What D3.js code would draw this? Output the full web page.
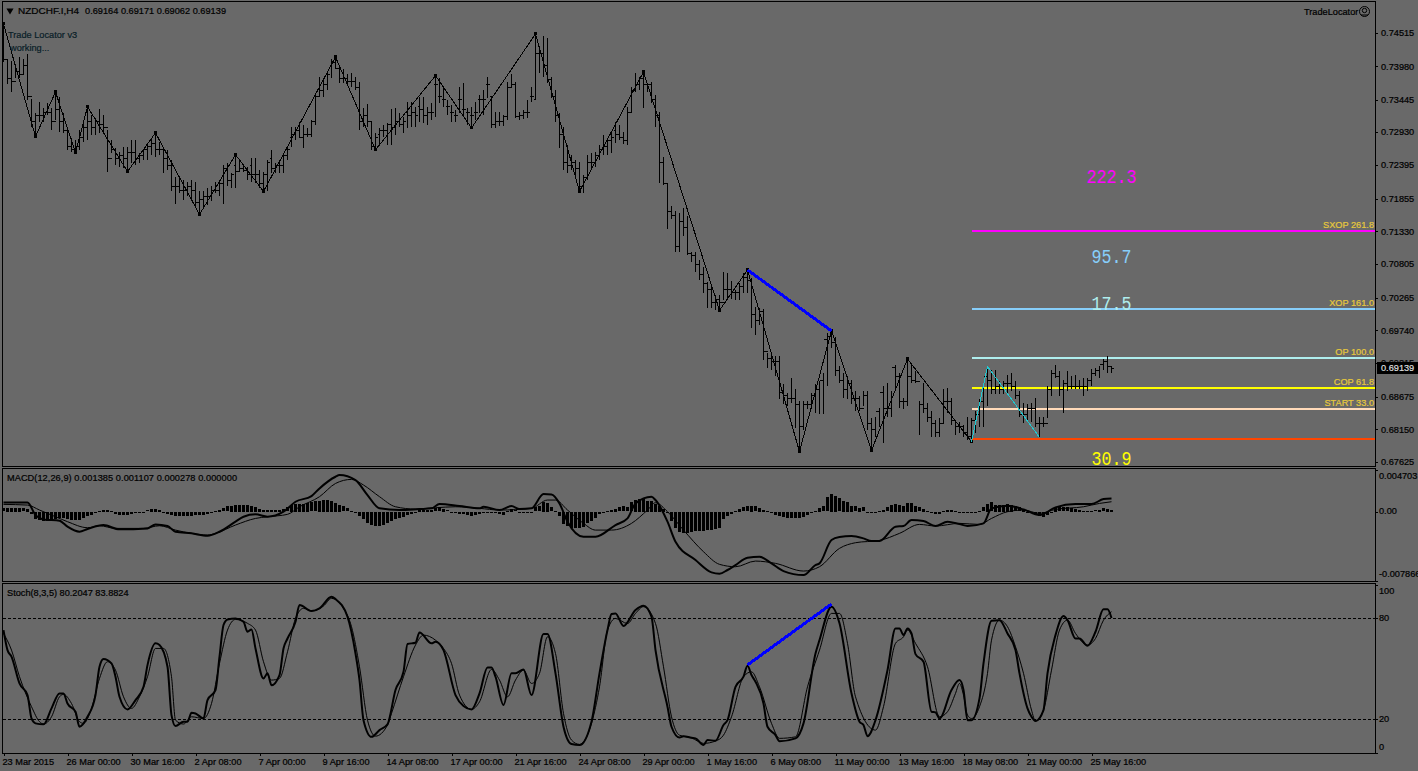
<!DOCTYPE html>
<html><head><meta charset="utf-8">
<script src="https://cdn.jsdelivr.net/npm/d3@7/dist/d3.min.js"></script>
<style>
html,body{margin:0;padding:0;background:#696969;overflow:hidden}
svg{display:block}
text{font-family:"Liberation Sans",Arial,sans-serif;font-size:9.2px;fill:#000}
</style></head><body>
<svg id="c" width="1418" height="771"></svg>
<script>
// ---- price bars, in pips (1 pip = 0.0001) ----
const highs=[7466,7409,7406,7397,7413,7409,7417,7346,7323,7341,7331,7339,7331,7357,7349,7323,7301,7283,7280,7296,7312,7333,7320,7315,7330,7320,7296,7280,7267,7261,7269,7269,7280,7280,7259,7264,7275,7283,7291,7277,7269,7264,7248,7221,7221,7216,7213,7216,7213,7197,7197,7203,7205,7213,7213,7240,7243,7227,7256,7248,7240,7237,7251,7251,7232,7229,7248,7264,7243,7248,7256,7269,7301,7301,7309,7304,7299,7312,7355,7381,7380,7389,7409,7413,7397,7393,7385,7388,7381,7373,7331,7338,7309,7291,7299,7304,7307,7330,7331,7323,7317,7341,7341,7333,7349,7349,7333,7339,7383,7380,7364,7344,7336,7328,7364,7371,7331,7333,7341,7352,7360,7381,7349,7325,7325,7320,7373,7385,7373,7325,7328,7344,7365,7450,7428,7446,7444,7381,7360,7323,7301,7272,7256,7248,7245,7224,7256,7259,7261,7272,7288,7283,7291,7309,7304,7293,7333,7365,7388,7381,7389,7372,7373,7352,7325,7253,7211,7173,7165,7163,7171,7157,7100,7100,7087,7076,7052,7044,7031,7031,7068,7066,7053,7039,7050,7066,7071,7058,7012,7010,7009,6938,6935,6932,6932,6887,6874,6898,6879,6860,6860,6860,6874,6887,6892,6906,6970,6975,6964,6916,6906,6900,6895,6876,6868,6876,6876,6833,6834,6850,6884,6890,6876,6919,6906,6866,6927,6922,6908,6860,6890,6858,6844,6830,6833,6879,6882,6866,6827,6827,6822,6835,6833,6844,6863,6884,6916,6911,6911,6892,6892,6903,6906,6892,6876,6858,6855,6858,6866,6834,6834,6884,6911,6919,6908,6895,6909,6900,6903,6895,6898,6898,6912,6914,6917,6928,6932,6917];
const lows=[7405,7369,7356,7380,7380,7385,7344,7301,7285,7309,7309,7320,7296,7312,7293,7291,7264,7261,7258,7264,7277,7280,7288,7288,7291,7293,7229,7259,7240,7237,7235,7229,7243,7240,7243,7248,7248,7256,7253,7256,7227,7232,7197,7177,7195,7184,7189,7184,7173,7160,7171,7176,7181,7195,7189,7177,7205,7203,7203,7229,7229,7216,7213,7211,7203,7197,7197,7227,7227,7227,7227,7248,7269,7280,7283,7267,7285,7285,7304,7349,7349,7360,7380,7393,7372,7372,7369,7364,7360,7296,7301,7301,7264,7264,7272,7285,7272,7272,7288,7301,7291,7299,7301,7301,7309,7307,7304,7312,7317,7339,7333,7320,7309,7309,7323,7320,7304,7299,7312,7323,7320,7347,7299,7299,7302,7302,7312,7364,7315,7312,7314,7315,7341,7344,7388,7381,7372,7347,7309,7267,7232,7227,7232,7221,7197,7195,7216,7232,7237,7248,7256,7256,7259,7275,7280,7274,7272,7323,7356,7360,7331,7357,7339,7301,7211,7208,7137,7152,7100,7100,7125,7095,7084,7068,7055,7034,7010,7010,7007,7007,7023,7023,7025,7023,7023,7034,7034,6978,6967,6983,6927,6914,6911,6900,6863,6855,6852,6858,6817,6779,6814,6847,6847,6842,6839,6839,6884,6946,6900,6890,6865,6863,6855,6844,6844,6852,6814,6782,6802,6819,6793,6834,6834,6882,6850,6847,6852,6890,6890,6806,6842,6827,6802,6802,6802,6825,6842,6822,6806,6809,6802,6798,6795,6809,6819,6819,6852,6871,6871,6871,6871,6874,6876,6863,6834,6825,6830,6827,6819,6802,6819,6833,6868,6898,6868,6841,6876,6879,6879,6879,6868,6876,6884,6900,6898,6911,6906,6906];
const opens=[7430,7410,7380,7375,7390,7385,7400,7350,7310,7320,7320,7325,7325,7310,7330,7310,7295,7270,7265,7270,7285,7300,7310,7300,7310,7305,7300,7250,7265,7250,7255,7250,7260,7260,7250,7255,7265,7270,7275,7265,7265,7250,7240,7205,7205,7200,7200,7205,7200,7180,7185,7190,7190,7200,7200,7210,7235,7215,7240,7230,7235,7232,7240,7225,7225,7210,7225,7250,7235,7240,7240,7255,7285,7290,7295,7285,7290,7290,7310,7350,7360,7370,7400,7405,7395,7380,7380,7375,7375,7365,7310,7320,7310,7270,7290,7295,7295,7305,7300,7310,7305,7325,7320,7325,7335,7330,7320,7325,7370,7350,7345,7335,7325,7320,7345,7330,7325,7320,7325,7345,7345,7370,7350,7305,7310,7310,7318,7365,7370,7318,7320,7325,7350,7345,7420,7420,7400,7378,7350,7320,7290,7245,7240,7245,7235,7205,7220,7245,7245,7255,7265,7270,7280,7295,7290,7285,7280,7325,7360,7370,7380,7370,7370,7345,7320,7245,7210,7165,7160,7110,7150,7140,7098,7095,7080,7065,7050,7040,7020,7025,7020,7040,7040,7035,7035,7045,7060,7055,7000,6990,7005,6940,6930,6925,6925,6875,6870,6865,6865,6855,6820,6855,6855,6870,6880,6895,6960,6965,6955,6910,6895,6880,6890,6865,6865,6850,6870,6825,6815,6845,6875,6850,6850,6915,6900,6860,6860,6900,6895,6893,6855,6850,6835,6825,6810,6825,6860,6860,6830,6820,6820,6810,6805,6830,6840,6860,6900,6895,6880,6885,6880,6890,6890,6885,6870,6840,6840,6850,6850,6825,6825,6825,6880,6905,6900,6880,6890,6885,6885,6885,6885,6885,6895,6905,6910,6920,6925,6916];
const closes=[7410,7380,7375,7390,7385,7400,7350,7310,7320,7320,7325,7325,7310,7330,7310,7295,7270,7265,7270,7285,7300,7310,7300,7310,7305,7300,7250,7265,7250,7255,7250,7260,7260,7250,7255,7265,7270,7275,7265,7265,7250,7240,7205,7205,7200,7200,7205,7200,7180,7185,7190,7190,7200,7200,7210,7235,7215,7225,7230,7235,7232,7225,7225,7225,7210,7225,7245,7235,7240,7240,7255,7265,7290,7295,7285,7290,7290,7310,7350,7360,7370,7385,7405,7395,7380,7380,7375,7375,7365,7310,7320,7310,7270,7285,7295,7295,7305,7300,7310,7305,7310,7320,7325,7320,7330,7320,7325,7325,7370,7350,7345,7335,7325,7320,7345,7330,7325,7320,7325,7345,7345,7370,7305,7310,7310,7318,7365,7370,7318,7320,7325,7325,7350,7420,7420,7400,7378,7350,7320,7290,7245,7240,7245,7235,7205,7220,7245,7245,7255,7265,7270,7280,7285,7290,7285,7280,7325,7360,7370,7380,7370,7370,7345,7320,7245,7210,7165,7160,7110,7150,7140,7098,7095,7080,7065,7050,7040,7020,7025,7020,7040,7040,7035,7035,7045,7060,7055,7000,6990,7005,6940,6930,6925,6925,6875,6870,6865,6865,6855,6820,6855,6855,6870,6880,6895,6960,6965,6955,6910,6895,6880,6890,6865,6865,6850,6870,6825,6815,6845,6875,6850,6850,6915,6900,6860,6860,6900,6895,6893,6855,6850,6835,6825,6810,6825,6860,6860,6830,6820,6820,6810,6805,6830,6840,6860,6900,6895,6880,6885,6880,6890,6890,6885,6870,6840,6840,6850,6850,6825,6825,6825,6880,6905,6900,6880,6890,6885,6885,6885,6885,6885,6895,6905,6910,6920,6925,6916,6914];

// ---- zigzag and divergence overlays ----
const zigBars=[0,8,13,18,21,31,38,49,58,65,83,93,108,117,133,144,160,179,186,199,207,217,226,242];
const zigPips=[7466,7285,7357,7259,7333,7229,7291,7160,7256,7197,7413,7264,7383,7299,7450,7197,7389,7006,7071,6779,6974,6781,6928,6795];
const cyanBars=[242,246,259];
const cyanPips=[6795,6916,6802];
const divBars=[186,207];
const divPips=[7071,6973];
const divStoch=[52.3,88.5];

// ---- levels ----
const levelPips=[7134,7009,6930,6882,6847,6800];
const levelColors=["#ff00ff","#87cefa","#afeeee","#ffff00","#ffdab9","#ff4500"];
const levelNames=["SXOP 261.8","XOP 161.0","OP 100.0","COP 61.8","START 33.0",""];
const bigPips=[7221,7094,7017,6769];
const bigLabels=["222.3","95.7","17.5","30.9"];
const bigColors=["#ff00ff","#87cefa","#afeeee","#ffff00"];

// ---- MACD, units of 0.0001 ----
const macdHist=[3.8,4.1,4.1,4.1,4.1,3.8,3,-2.6,-7.5,-9.4,-10.2,-10.2,-9.4,-7.5,-6.8,-7.2,-8.3,-9,-9.4,-9,-6.4,-4.5,-3,-1.5,.8,1.9,1.9,.8,-1.9,-3,-3,-3,-1.9,-.8,-.4,0,1.5,3,3,1.9,0,-2.6,-3.8,-4.5,-4.5,-4.5,-4.5,-4.5,-3.8,-3,-3,-1.9,-.8,1.1,1.9,3.8,5.7,6.8,7.5,7.5,7.5,7.5,6.8,5.3,3,2.3,2.3,2.3,2.3,2.3,3,4.9,7.5,8.7,8.7,8.7,9.8,10.6,11.7,12.4,13.2,13.2,12.4,9.8,7.5,6,3.8,1.1,-.8,-4.5,-7.5,-12.8,-15.1,-15.8,-15.8,-15.1,-12.1,-10.2,-8.3,-6.4,-5.3,-3.8,-1.9,0,1.9,2.3,1.9,2.3,3.8,4.9,3,1.5,0,-1.1,-1.9,-1.9,-3,-4.5,-3,-2.3,0,-.8,-1.5,-1.5,-2.3,-3,.8,3,1.5,-1.5,-1.5,-1.5,-.8,4.9,6,11.3,9.8,4.9,1.1,-4.5,-13.9,-15.8,-18.5,-18.5,-18.5,-16.6,-12.8,-10.2,-6.4,-2.6,-.8,1.1,1.9,3,4.9,6,4.9,10.6,13.6,14.3,14.3,12.4,12.4,8.7,6.8,3,-1.5,-10.2,-17.7,-22.6,-23.4,-23.4,-22.6,-21.9,-21.9,-21.1,-20.4,-20.4,-18.9,-17.7,-8.3,-4.5,-1.9,.8,3,4.9,6,6.8,6,4.1,2.3,1.1,-1.5,-3.4,-4.5,-5.3,-6.4,-7.2,-6.4,-6.4,-5.7,-3.8,-.8,1.1,4.1,5.7,16.2,20,18.1,15.1,12.4,11.3,6.8,5.7,4.1,4.9,0,0,0,.8,2.3,4.9,7.5,8.7,7.5,6.8,9.8,9.8,6.8,4.9,3,.8,-.8,-1.9,-1.9,1.1,2.3,1.9,.4,-.8,-1.1,-1.1,-.8,0,.4,4.9,8.7,10.6,7.5,7.5,7.5,8.7,7.5,6,4.9,1.9,0,-1.5,-3,-4.5,-5.3,-3.8,0,4.1,4.9,4.9,4.9,4.1,3,1.9,1.1,1.1,1.1,1.5,2.3,3.8,3,1.9];
const macdMainBars=[0,6,8,10,14,16,19,21,25,29,36,38,41,43,47,51,54,58,60,63,66,70,73,77,79,83,84,88,91,94,99,104,107,109,114,119,120,124,127,129,132,135,137,139,141,145,148,153,156,158,162,163,166,168,173,177,179,181,183,186,189,192,195,200,203,204,207,209,212,215,217,219,223,225,227,230,233,236,239,241,245,247,251,255,259,263,268,272,275,277];
const macdMain=[10.3,10.3,-4,-8.9,-10.4,-17.2,-22.9,-19.8,-15.3,-20.2,-19.1,-14.6,-16.4,-22.9,-24.7,-27.4,-22.9,-11.5,-5.9,-3.2,-5.9,-.2,11.1,17.5,26.2,39.4,41.3,35.6,18.6,3.6,1.7,2.8,3.6,8.5,6.2,3.6,5.4,1.7,6.2,2.8,3.6,19.8,19.4,9.2,-11.5,-28.5,-28.5,-15.3,-7.8,9.2,16.7,13,-11.5,-34.2,-54.9,-68.9,-70.4,-66.2,-60.6,-52.3,-51.2,-58.7,-67.4,-71.9,-60.6,-58.7,-32.3,-28.9,-27.8,-30.4,-33.4,-33.4,-17.2,-16.4,-9.7,-10.8,-16.4,-11.5,-14.2,-16.4,-13.4,3.6,6.6,2.4,-4,4.7,8.5,8.5,14.1,14.9];
const macdSigBars=[0,6,9,13,16,21,24,28,35,39,43,47,51,53,58,63,66,71,74,79,83,87,90,94,98,103,108,113,119,124,132,136,138,141,145,148,152,157,161,163,166,170,175,179,183,188,193,200,204,209,213,219,224,229,233,239,244,247,251,255,259,263,270,274,277];
const macdSig=[8.1,7.3,1.7,-5.9,-11.5,-18.3,-16.1,-19.1,-19.1,-16.1,-21,-24.7,-26.6,-24.7,-15.3,-7.8,-5.9,-3.2,5.4,16.8,31.8,36.4,30,16.8,5.4,2.8,4.3,5.4,3.6,1.7,3.6,13,13,1.7,-13.4,-21,-21,-13.4,1.7,10,-.2,-21,-45.5,-59.8,-62.5,-56.1,-58.7,-67.4,-62.5,-41.7,-35.3,-32.7,-24.7,-14.6,-16.4,-13.4,-14.6,-7.8,-.2,1.7,-2.1,2.4,5.4,9.2,11.1];

// ---- Stochastic ----
const stochMainBars=[0,1,2,4,6,7,8,10,12,14,15,16,18,19,21,23,24,25,27,28,29,31,33,35,36,38,39,41,42,43,45,46,47,48,50,51,53,54,55,56,58,60,61,62,63,65,66,67,69,70,71,73,74,77,79,82,83,86,88,89,90,92,94,96,98,100,101,103,104,107,108,110,113,115,117,119,121,122,123,125,127,128,130,132,135,136,138,140,142,144,147,149,151,152,153,155,158,160,162,163,166,167,169,170,172,173,175,176,178,180,181,183,185,186,187,188,190,191,193,194,198,200,203,204,207,209,212,214,215,216,218,221,223,224,225,226,227,228,230,232,233,234,237,239,240,241,242,244,245,247,249,251,253,254,256,257,258,260,261,263,265,266,268,269,271,273,275,276,277];
const stochMain=[73,61.1,57.2,41.3,34.4,20.5,17.6,17,26.5,35.4,35.4,29.4,24.5,15.6,21.5,34.4,51.2,55.8,53.2,45.3,33.4,25.9,31.4,39.3,52.2,65.1,64.1,51.2,22.5,16,18.6,18.6,23.9,23.5,20.5,31.4,37.4,57.2,76,79.3,79.9,77.9,72,73.4,62.1,44.3,47.3,40.3,46.3,62.1,68,77.9,87.9,84.3,85.9,92.8,91.4,80.9,59.1,43.3,19.5,9.6,13.6,17,37.4,48.2,64.7,65.5,71.6,65.1,66.1,61.1,34.4,27.9,25.9,35.4,50.8,50.8,45.3,28.5,47.3,47.3,49.6,34.4,70.6,70.6,47.3,15.6,5.3,4.7,18.6,47.3,73,82.5,82.9,75.4,84.9,87.5,80.9,61.1,27.5,15.6,9.2,10,9,8.7,4.7,7.7,7.3,16.6,19.5,39.3,45.3,51.8,46.3,42.3,29.4,15.6,10.6,7,8.7,17.6,59.1,67,86.9,77,35.4,18.6,16.6,10,19.5,49.2,74,74,70,74,71,58.7,54.2,24.5,24.1,20.5,37.4,43.3,37.4,19.5,19.5,32.4,53.2,78.5,78.9,71,61.1,47.3,26.5,21.5,19,25.5,47.3,70,81.3,78.9,68,68,63.7,72,85.3,85.3,80.2];
const stochSigBars=[0,2,4,7,9,10,12,14,15,17,19,20,22,24,26,28,30,32,34,36,38,40,42,43,45,47,50,52,54,56,58,61,63,65,67,69,71,73,75,77,80,82,85,87,89,91,93,96,97,100,103,105,108,110,112,114,117,119,122,124,126,128,130,132,134,136,138,140,142,144,147,149,151,153,156,158,160,163,165,167,169,172,175,178,180,182,185,187,189,192,194,198,201,204,207,209,211,213,218,220,223,225,226,228,231,234,236,238,239,240,241,242,244,246,247,249,251,253,255,257,258,260,262,264,266,268,271,273,275,277];
const stochSig=[71,61.1,45.3,27.5,18.6,17.2,21.5,33.4,34.8,29.4,18.6,17.6,26.5,44.3,54.2,49.2,33.4,26.5,33.4,45.3,62.1,62.1,45.3,19.5,17.2,21.5,20.5,29.4,53.2,73,79.3,77,73,54.2,43.3,44.3,60.1,79.9,85.9,84.3,87.3,91.8,85.9,75,51.2,19.5,10,16.6,23.5,45.3,64.1,70,67,62.1,53.2,34.4,25.9,30.4,49.6,43.3,33.4,43.3,49.2,41.3,47.3,69,59.1,23.5,7.7,5.1,17.6,39.3,73,79.9,76.9,82.9,86.9,76.9,51.2,21.5,10.6,9,5.7,7.1,10.6,21.5,45.3,48.2,39.3,17.6,8.7,9.6,39.3,61.1,82.9,82.9,65.1,33.4,13.6,27.5,65.1,69,73,65.1,51.2,21.5,24.5,35.4,41.3,34.4,22.5,20.5,27.5,47.3,67,78.9,75,63.1,47.3,25.5,19,25.5,49.2,73,78.9,71,64.1,68,78.9,83.9];

// ---- axes ----
const priceTicks=[.74515,.7398,.73445,.7293,.72395,.71855,.7133,.70805,.70265,.6974,.69215,.68675,.6815,.67625];
const macdTicks=[.004703,0,-.007866];
const stochTicks=[100,80,20,0];
const stochGuides=[80,20];
const dateBars=[0,16,32,48,64,80,96,112,128,144,160,176,192,208,224,240,256,272];
const dateLabels=["23 Mar 2015","26 Mar 00:00","30 Mar 16:00","2 Apr 08:00","7 Apr 00:00","9 Apr 16:00","14 Apr 08:00","17 Apr 00:00","21 Apr 16:00","24 Apr 08:00","29 Apr 00:00","1 May 16:00","6 May 08:00","11 May 00:00","13 May 16:00","18 May 08:00","21 May 00:00","25 May 16:00"];
const lastPrice=.69139;

// ---- layout ----
const right=1375, left=2;
const svg=d3.select("#c");
const x=d3.scaleLinear().domain([0,277]).range([3.5,1111.5]);
const y=d3.scaleLinear().domain([.67625,.74515]).range([462,33]);
const yM=d3.scaleLinear().domain([-78.66,47.03]).range([581,470]);
const yS=d3.scaleLinear().domain([0,100]).range([753,584.6]);
const P=p=>y(p/1e4);

const crisp=s=>s.attr("shape-rendering","crispEdges");

// frames
[[1.5,466.5],[468.5,581.5],[583.5,753.5]].forEach(([a,b])=>{
  crisp(svg.append("rect").attr("x",left+.5).attr("y",a).attr("width",right-left).attr("height",b-a)
    .attr("fill","none").attr("stroke","#000"));
});

// levels
const gL=svg.append("g");
levelPips.forEach((p,i)=>{
  crisp(gL.append("line").attr("x1",x(242)).attr("x2",right).attr("y1",P(p)).attr("y2",P(p))
    .attr("stroke",levelColors[i]).attr("stroke-width",2));
  if(levelNames[i]) gL.append("text").attr("x",right-1).attr("y",P(p)-3).attr("text-anchor","end")
    .style("fill","#e6c83c").text(levelNames[i]);
});
bigPips.forEach((p,i)=>{
  svg.append("text").attr("x",x(277)).attr("y",P(p)).attr("dy","0.33em").attr("text-anchor","middle")
    .attr("textLength",bigLabels[i].length*10).attr("lengthAdjust","spacingAndGlyphs")
    .attr("class","big")
    .style("font-family","'Liberation Mono',monospace").style("font-size","21px")
    .style("fill",bigColors[i]).text(bigLabels[i]);
});

// OHLC bars
const bars=crisp(svg.append("g").attr("stroke","#000").attr("stroke-width",1));
highs.forEach((h,i)=>{
  const g=bars.append("g");
  g.append("line").attr("x1",x(i)).attr("x2",x(i)).attr("y1",P(h)).attr("y2",P(lows[i]));
  g.append("line").attr("x1",x(i)-2).attr("x2",x(i)).attr("y1",Math.round(P(opens[i]))+.5).attr("y2",Math.round(P(opens[i]))+.5);
  g.append("line").attr("x1",x(i)).attr("x2",x(i)+2).attr("y1",Math.round(P(closes[i]))+.5).attr("y2",Math.round(P(closes[i]))+.5);
});

// path helper
function path(xs,ys,scale,col,w,curve){
  const l=d3.line().x(d=>x(d[0])).y(d=>scale(d[1]));
  if(curve) l.curve(curve);
  return svg.append("path").datum(xs.map((b,i)=>[b,ys[i]])).attr("d",l)
    .attr("fill","none").attr("stroke",col).attr("stroke-width",w).attr("stroke-linejoin","round");
}
crisp(path(zigBars,zigPips,P,"#000",1));
const gZ=crisp(svg.append("g").attr("fill","#000"));
zigBars.forEach((b,i)=>gZ.append("rect").attr("x",x(b)-1.5).attr("y",P(zigPips[i])-1.5).attr("width",3).attr("height",3));
crisp(path(cyanBars,cyanPips,P,"#20c8d0",1));
crisp(path(divBars,divPips,P,"#0000ff",3));

// MACD
const gH=crisp(svg.append("g").attr("fill","#000"));
macdHist.forEach((v,i)=>{
  const a=yM(0),b=yM(v);
  gH.append("rect").attr("x",x(i)-1.5).attr("width",3)
    .attr("y",Math.round(Math.min(a,b))).attr("height",Math.max(1,Math.round(Math.abs(a-b))));
});
path(macdSigBars,macdSig,yM,"#000",1,d3.curveMonotoneX);
path(macdMainBars,macdMain,yM,"#000",2,d3.curveMonotoneX);

// Stochastic
stochGuides.forEach(v=>{
  crisp(svg.append("line").attr("x1",left+1).attr("x2",right).attr("y1",Math.round(yS(v))+.5).attr("y2",Math.round(yS(v))+.5)
    .attr("stroke","#000").attr("stroke-dasharray","3,2"));
});
path(stochSigBars,stochSig,yS,"#000",1,d3.curveMonotoneX);
path(stochMainBars,stochMain,yS,"#000",2,d3.curveMonotoneX);
crisp(path(divBars,divStoch,yS,"#0000ff",3));

// axes
function style(g){g.select(".domain").remove();g.selectAll(".tick line").attr("stroke","#000").attr("shape-rendering","crispEdges");
  g.attr("font-family",null).attr("font-size",null);}
svg.append("g").attr("transform",`translate(${right},0)`)
  .call(d3.axisRight(y).tickValues(priceTicks).tickFormat(d3.format(".5f")).tickSize(3).tickPadding(3)).call(style);
const axM=svg.append("g").attr("transform",`translate(${right},0)`)
  .call(d3.axisRight(yM).tickValues(macdTicks.map(v=>v*1e4)).tickFormat((d,i)=>["0.004703","0.00","-0.007866"][i]).tickSize(3).tickPadding(1)).call(style);
axM.selectAll("text").attr("dy",(d,i)=>["0.9em","0.25em","-0.5em"][i]);
const axS=svg.append("g").attr("transform",`translate(${right},0)`)
  .call(d3.axisRight(yS).tickValues(stochTicks).tickFormat(d3.format("d")).tickSize(3).tickPadding(1)).call(style);
axS.selectAll("text").attr("dy",(d,i)=>["1em","0.25em","0.25em","-0.4em"][i]);
const axX=svg.append("g").attr("transform","translate(0,753)")
  .call(d3.axisBottom(x).tickValues(dateBars).tickFormat((d,i)=>dateLabels[i]).tickSize(3).tickPadding(2)).call(style);
axX.selectAll("text").attr("text-anchor","start").attr("dx",-1.5).attr("y",5);

// current price box
crisp(svg.append("rect").attr("x",1377).attr("y",y(lastPrice)-6).attr("width",41).attr("height",12).attr("fill","#000"));
svg.append("text").attr("x",1381).attr("y",y(lastPrice)).attr("dy","0.35em").style("fill","#ddd").text(lastPrice.toFixed(5));

// headers
svg.append("path").attr("d",d3.symbol(d3.symbolTriangle,22)()).attr("transform","translate(10,10.5) rotate(180)").attr("fill","#000");
svg.append("text").attr("x",18).attr("y",14).attr("textLength",61).attr("lengthAdjust","spacingAndGlyphs").text("NZDCHF.I,H4");
svg.append("text").attr("x",85).attr("y",14).attr("textLength",141).text("0.69164 0.69171 0.69062 0.69139");
svg.append("text").attr("x",8).attr("y",38).style("fill","#0a2028").text("Trade Locator v3");
svg.append("text").attr("x",10).attr("y",51).style("fill","#0a2028").text("working...");
svg.append("text").attr("x",7).attr("y",481).attr("textLength",230).text("MACD(12,26,9) 0.001385 0.001107 0.000278 0.000000");
svg.append("text").attr("x",7).attr("y",596).text("Stoch(8,3,5) 80.2047 83.8824");
svg.append("text").attr("x",1304).attr("y",15).text("TradeLocator");
svg.append("circle").attr("cx",1364.5).attr("cy",11.5).attr("r",5).attr("fill","none").attr("stroke","#000");
svg.append("circle").attr("cx",1364.5).attr("cy",10.5).attr("r",2.2).attr("fill","none").attr("stroke","#000");
svg.append("path").attr("d","M1361 15 L1368 15").attr("stroke","#000");

// slight weight on small text, as the hinted original looks heavier
svg.selectAll("text:not(.big)").each(function(){
  const s=d3.select(this);
  s.style("stroke",getComputedStyle(this).fill).style("stroke-width",".22px");
});
</script>
</body></html>
